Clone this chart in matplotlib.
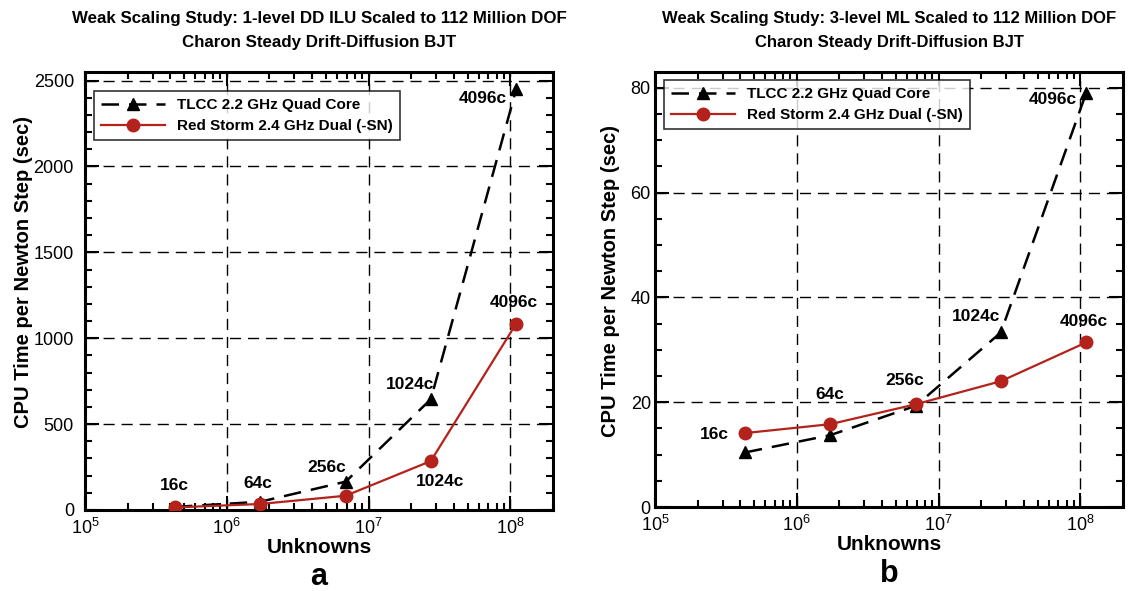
import matplotlib
matplotlib.use('Agg')
import matplotlib.pyplot as plt
from matplotlib.ticker import LogLocator, MultipleLocator, NullFormatter

plt.rcParams['font.family'] = ['Liberation Sans', 'DejaVu Sans']
plt.rcParams['mathtext.fontset'] = 'custom'
plt.rcParams['mathtext.rm'] = 'Liberation Sans'
plt.rcParams['mathtext.it'] = 'Liberation Sans'
plt.rcParams['mathtext.bf'] = 'Liberation Sans:bold'

# datos
unknowns = [4.3e5, 1.72e6, 6.9e6, 2.75e7, 1.1e8]
cores = ['16c', '64c', '256c', '1024c', '4096c']

ilu_tlcc = [18, 48, 165, 645, 2450]
ilu_redstorm = [15, 35, 83, 285, 1085]

ml_tlcc = [10.4, 13.7, 19.3, 33.3, 79.0]
ml_redstorm = [14.1, 15.8, 19.6, 24.0, 31.4]

titulos = ['Weak Scaling Study: 1-level DD ILU Scaled to 112 Million DOF\nCharon Steady Drift-Diffusion BJT',
           'Weak Scaling Study: 3-level ML Scaled to 112 Million DOF\nCharon Steady Drift-Diffusion BJT']
rojo = '#b3221b'

fig = plt.figure(figsize=(11.31, 5.91), dpi=100)
W, H = 1131.0, 591.0
ax1 = fig.add_axes([85 / W, 1 - 510 / H, 468 / W, 438 / H])
ax2 = fig.add_axes([655 / W, 1 - 507 / H, 468 / W, 435 / H])


def preparar(ax, ymax, ymajor, yminor, ypad, ylab_xy):
    ax.set_xscale('log')
    ax.set_xlim(1e5, 2e8)
    ax.set_ylim(0, ymax)
    ax.yaxis.set_major_locator(MultipleLocator(ymajor))
    ax.yaxis.set_minor_locator(MultipleLocator(yminor))
    ax.xaxis.set_major_locator(LogLocator(base=10, numticks=10))
    ax.xaxis.set_minor_locator(LogLocator(base=10, subs=range(2, 10), numticks=20))
    ax.xaxis.set_minor_formatter(NullFormatter())
    ax.tick_params(which='both', direction='in', top=True, right=True, labelsize=13, width=1.5)
    ax.tick_params(which='major', length=10)
    ax.tick_params(which='minor', length=5)
    ax.tick_params(axis='x', pad=6)
    ax.tick_params(axis='y', pad=ypad)
    for s in ax.spines.values():
        s.set_linewidth(2.2)
    ax.grid(True, which='major', color='black', linestyle=(0, (8, 5)), lw=1.0)
    ax.set_axisbelow(True)
    ax.set_xlabel('Unknowns', fontsize=15, fontweight='bold', labelpad=0)
    ax.set_ylabel('CPU Time per Newton Step (sec)', fontsize=14.5, fontweight='bold')
    ax.yaxis.set_label_coords(*ylab_xy)


preparar(ax1, 2550, 500, 100, 8, (-0.111, 0.543))
preparar(ax2, 83, 20, 5, 3, (-0.075, 0.52))

for ax, tlcc, rs, tit, letra, tsize, legy in [
        (ax1, ilu_tlcc, ilu_redstorm, titulos[0], 'a', 12.2, 0.977),
        (ax2, ml_tlcc, ml_redstorm, titulos[1], 'b', 12.0, 1.002)]:
    ax.plot(unknowns, tlcc, color='black', linestyle=(0, (7, 4)), lw=1.8,
            marker='^', markersize=8.5, label='TLCC 2.2 GHz Quad Core', zorder=3)
    ax.plot(unknowns, rs, color=rojo, linestyle='-', lw=1.6,
            marker='o', markersize=9, label='Red Storm 2.4 GHz Dual (-SN)', zorder=4)
    ax.set_title(tit, fontsize=tsize, fontweight='bold', linespacing=1.75, pad=18)
    leg = ax.legend(loc='upper left', bbox_to_anchor=(0.0, legy),
                    prop={'weight': 'bold', 'size': 11}, frameon=True, fancybox=False,
                    edgecolor='black', handlelength=4.2, borderpad=0.45,
                    labelspacing=0.45, borderaxespad=0.6)
    leg.get_frame().set_linewidth(1.2)
    ax.text(0.5, -0.153, letra, transform=ax.transAxes, ha='center', va='center',
            fontsize=22, fontweight='bold')

kw = dict(textcoords='offset points', fontsize=12.5, fontweight='bold', ha='center')

# etiquetas panel a
ax1.annotate(cores[0], (unknowns[0], ilu_tlcc[0]), xytext=(0, 12), **kw)
ax1.annotate(cores[1], (unknowns[1], ilu_tlcc[1]), xytext=(-2, 10), **kw)
ax1.annotate(cores[2], (unknowns[2], ilu_tlcc[2]), xytext=(-14, 7), **kw)
ax1.annotate(cores[3], (unknowns[3], ilu_tlcc[3]), xytext=(-15, 7), **kw)
ax1.annotate(cores[3], (unknowns[3], ilu_redstorm[3]), xytext=(7, -18), **kw)
ax1.annotate(cores[4], (unknowns[4], ilu_tlcc[4]), xytext=(-24, -10), **kw)
ax1.annotate(cores[4], (unknowns[4], ilu_redstorm[4]), xytext=(-2, 12), **kw)

# etiquetas panel b
ax2.annotate(cores[0], (unknowns[0], ml_redstorm[0]), xytext=(-22, -4), **kw)
ax2.annotate(cores[1], (unknowns[1], ml_redstorm[1]), xytext=(0, 18), **kw)
ax2.annotate(cores[2], (unknowns[2], ml_redstorm[2]), xytext=(-8, 14), **kw)
ax2.annotate(cores[3], (unknowns[3], ml_tlcc[3]), xytext=(-18, 8), **kw)
ax2.annotate(cores[4], (unknowns[4], ml_tlcc[4]), xytext=(-24, -8), **kw)
ax2.annotate(cores[4], (unknowns[4], ml_redstorm[4]), xytext=(-2, 12), **kw)

fig.savefig('out.png', dpi=100)
